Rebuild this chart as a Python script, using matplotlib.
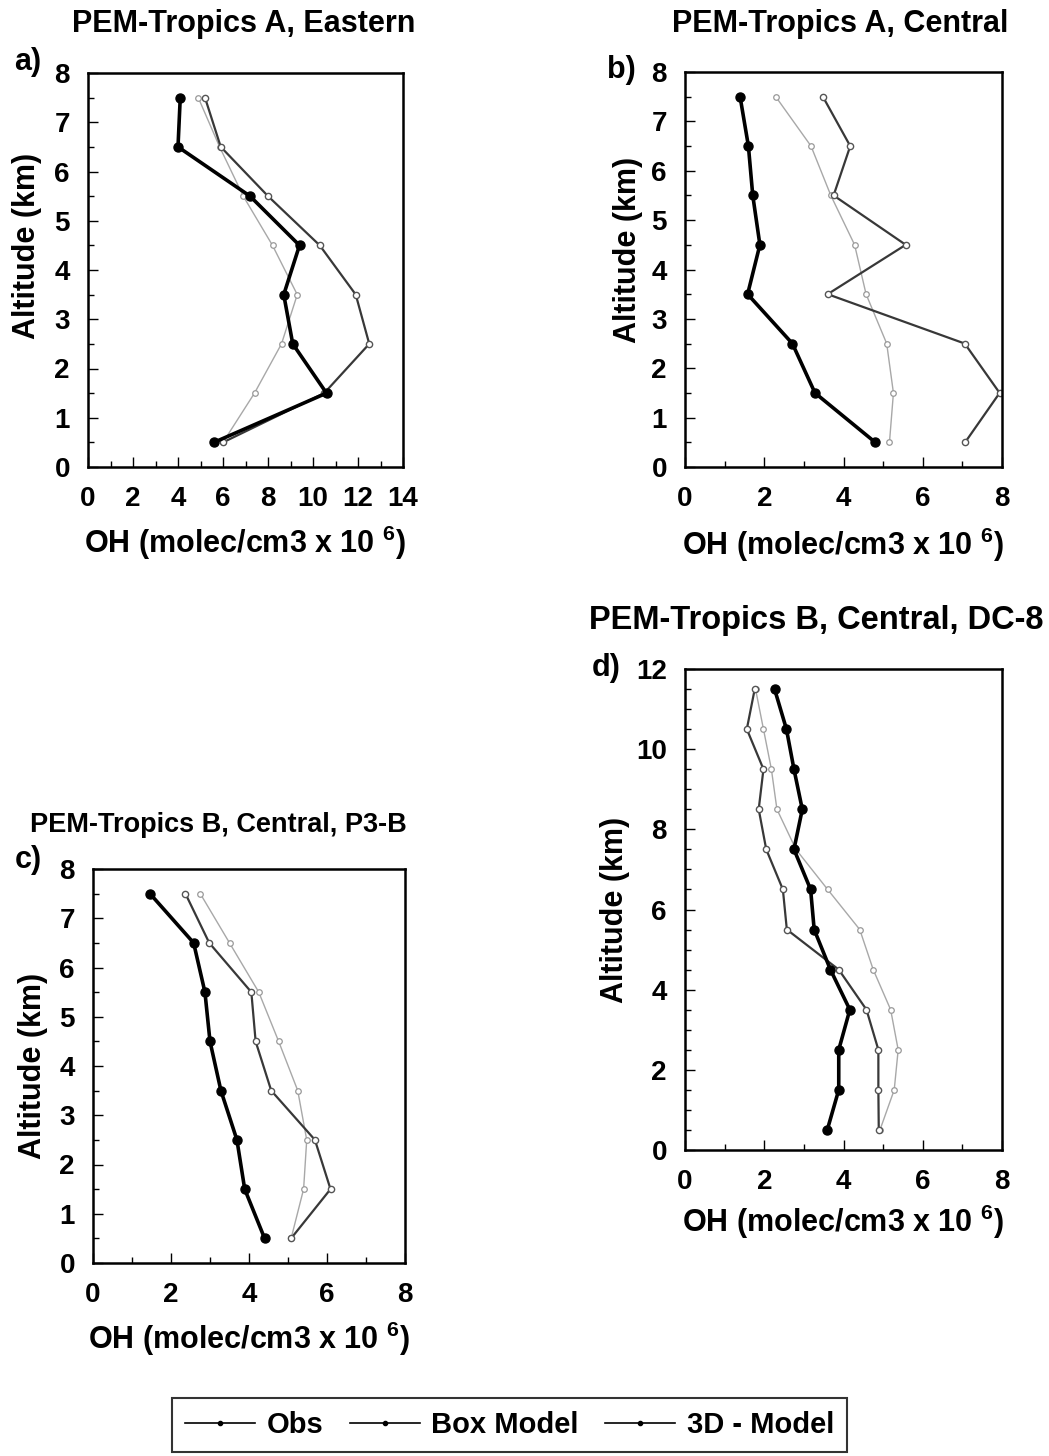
import matplotlib
matplotlib.use('Agg')
import matplotlib.pyplot as plt
from matplotlib.lines import Line2D
from matplotlib.ticker import MultipleLocator

plt.rcParams['font.family'] = ['Liberation Sans', 'DejaVu Sans']
plt.rcParams['font.weight'] = 'bold'
plt.rcParams['axes.labelweight'] = 'bold'
plt.rcParams['mathtext.fontset'] = 'custom'
plt.rcParams['mathtext.bf'] = 'Liberation Sans:bold'
plt.rcParams['mathtext.rm'] = 'Liberation Sans:bold'

# altitude levels (km)
alt_8 = [7.5, 6.5, 5.5, 4.5, 3.5, 2.5, 1.5, 0.5]
alt_12 = [11.5, 10.5, 9.5, 8.5, 7.5, 6.5, 5.5, 4.5, 3.5, 2.5, 1.5, 0.5]

# a) PEM-Tropics A, Eastern
obs_a = [4.1, 4.0, 7.2, 9.4, 8.7, 9.1, 10.6, 5.6]
box_a = [5.2, 5.9, 8.0, 10.3, 11.9, 12.5, 10.5, 6.0]
m3d_a = [4.9, 5.85, 6.9, 8.2, 9.3, 8.6, 7.4, 6.0]

# b) PEM-Tropics A, Central
obs_b = [1.39, 1.60, 1.71, 1.89, 1.58, 2.71, 3.28, 4.80]
box_b = [3.48, 4.17, 3.75, 5.57, 3.60, 7.06, 7.94, 7.07]
m3d_b = [2.29, 3.18, 3.68, 4.28, 4.57, 5.09, 5.26, 5.16]

# c) PEM-Tropics B, Central, P3-B
obs_c = [1.46, 2.58, 2.87, 3.0, 3.28, 3.69, 3.89, 4.40]
box_c = [2.37, 2.98, 4.06, 4.17, 4.57, 5.69, 6.09, 5.08]
m3d_c = [2.75, 3.5, 4.25, 4.76, 5.25, 5.48, 5.4, 5.08]

# d) PEM-Tropics B, Central, DC-8
obs_d = [2.26, 2.56, 2.75, 2.96, 2.75, 3.17, 3.26, 3.67, 4.16, 3.88, 3.88, 3.59]
box_d = [1.76, 1.56, 1.98, 1.86, 2.05, 2.47, 2.57, 3.88, 4.58, 4.88, 4.88, 4.89]
m3d_d = [1.78, 1.98, 2.18, 2.32, 2.8, 3.6, 4.41, 4.75, 5.19, 5.38, 5.28, 4.92]

titles = ['PEM-Tropics A, Eastern', 'PEM-Tropics A, Central',
          'PEM-Tropics B, Central, P3-B', 'PEM-Tropics B, Central, DC-8']
letters = ['a)', 'b)', 'c)', 'd)']
legend_labels = ['Obs', 'Box Model', '3D - Model']

W, H = 1049, 1456
fig = plt.figure(figsize=(W / 100, H / 100), dpi=100)


def px_axes(left, top, right, bottom):
    return fig.add_axes([left / W, 1 - bottom / H, (right - left) / W, (bottom - top) / H])


ax_a = px_axes(88, 73, 403, 467)
ax_b = px_axes(685, 72, 1002, 467)
ax_c = px_axes(93, 869, 405, 1263)
ax_d = px_axes(685, 669, 1002, 1150)

# axes, data, xmax, ymax, y label step, ylabel coords, xlabel y
panels = [
    (ax_a, alt_8, obs_a, box_a, m3d_a, 14, 8, 1, (-0.146, 0.56), -0.145),
    (ax_b, alt_8, obs_b, box_b, m3d_b, 8, 8, 1, (-0.132, 0.55), -0.149),
    (ax_c, alt_8, obs_c, box_c, m3d_c, 8, 8, 1, (-0.144, 0.5), -0.145),
    (ax_d, alt_12, obs_d, box_d, m3d_d, 8, 12, 2, (-0.173, 0.5), -0.11),
]

for ax, alt, obs, box, m3d, xmax, ymax, ystep, ylc, xly in panels:
    ax.plot(m3d, alt, color='#a8a8a8', lw=1.0, marker='o', ms=4,
            mfc='white', mec='#999999', mew=0.9)
    ax.plot(box, alt, color='#383838', lw=1.6, marker='o', ms=4.5,
            mfc='white', mec='#555555', mew=1.0)
    ax.plot(obs, alt, color='black', lw=2.6, marker='o', ms=6.5,
            mfc='black', mec='black')
    ax.set_xlim(0, xmax)
    ax.set_ylim(0, ymax)
    ax.xaxis.set_major_locator(MultipleLocator(2))
    ax.xaxis.set_minor_locator(MultipleLocator(1))
    ax.yaxis.set_major_locator(MultipleLocator(ystep))
    ax.yaxis.set_minor_locator(MultipleLocator(0.5))
    ax.tick_params(which='both', direction='in', labelsize=20, width=1.0)
    ax.tick_params(which='major', length=7)
    ax.tick_params(which='minor', length=4)
    ax.tick_params(axis='x', which='major', pad=14)
    ax.tick_params(axis='y', which='major', pad=13)
    for s in ax.spines.values():
        s.set_linewidth(1.8)
    ax.set_xlabel(r'OH (molec/cm3 x 10 $^{\mathbf{6}}$)', fontsize=22)
    ax.set_ylabel('Altitude (km)', fontsize=22)
    ax.yaxis.set_label_coords(*ylc)
    ax.xaxis.set_label_coords(0.5, xly)

# titles and panel letters
title_pos = [(244, 24), (840, 24), (218, 825), (816, 620)]
title_size = [22, 22, 19.5, 23.5]
letter_pos = [(28, 62), (621, 70), (28, 860), (606, 668)]
for t, (x, y), fs in zip(titles, title_pos, title_size):
    fig.text(x / W, 1 - y / H, t, ha='center', va='center', fontsize=fs, fontweight='bold')
for t, (x, y) in zip(letters, letter_pos):
    fig.text(x / W, 1 - y / H, t, ha='center', va='center', fontsize=22, fontweight='bold')

handles = [Line2D([], [], color='black', lw=1.2, marker='o', ms=3) for _ in legend_labels]
leg = fig.legend(handles, legend_labels, ncol=3,
                 loc='lower left', bbox_to_anchor=(172 / W, 4 / H), borderaxespad=0,
                 frameon=True, fancybox=False, edgecolor='black',
                 handlelength=2.4, handletextpad=0.4, columnspacing=0.9,
                 borderpad=0.45, prop={'weight': 'bold', 'size': 21})
leg.get_frame().set_linewidth(1.5)

fig.savefig('out.png', dpi=100)
